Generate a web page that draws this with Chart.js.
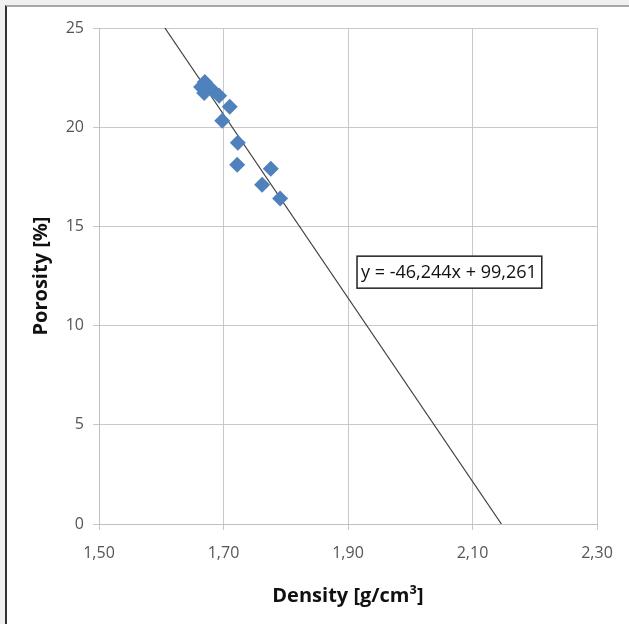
<!DOCTYPE html>
<html>
<head>
<meta charset="utf-8">
<script src="https://cdn.jsdelivr.net/npm/chart.js@4"></script>
<style>
    html, body { margin: 0; padding: 0; background: #f0f0f0; }
    #frame {
        position: absolute; left: 5px; top: 5px; width: 624px; height: 619px;
        background: #fff; border-top: 2px solid #a8a8a8; border-left: 2px solid #333;
        box-sizing: border-box;
    }
    #wrap { position: absolute; left: 0; top: 0; width: 629px; height: 624px; }
</style>
</head>
<body>
<div id="frame"></div>
<div id="wrap"><canvas id="myChart" width="629" height="624"></canvas></div>
<script>
// measured samples
const density = [1.670, 1.664, 1.669, 1.682, 1.693, 1.710, 1.698, 1.723, 1.722, 1.776, 1.762, 1.791];
const porosity = [22.28, 22.03, 21.73, 21.88, 21.58, 21.03, 20.32, 19.22, 18.11, 17.91, 17.10, 16.40];

// linear trend
const slope = -46.244;
const intercept = 99.261;
const trendLabel = 'y = -46,244x + 99,261';

const xTicks = [1.5, 1.7, 1.9, 2.1, 2.3];
const yTicks = [0, 5, 10, 15, 20, 25];

const fontFamily = "'Open Sans', 'Liberation Sans', sans-serif";

// trend line from y=25 down to y=0
const trendPoints = [25, 0].map(y => ({ x: (y - intercept) / slope, y: y }));

const equationBox = {
    id: 'equationBox',
    afterDatasetsDraw(chart) {
        const { ctx, scales } = chart;
        const left = scales.x.getPixelForValue(1.9145);
        const top = scales.y.getPixelForValue(13.5);
        ctx.save();
        ctx.font = '18px ' + fontFamily;
        const w = ctx.measureText(trendLabel).width + 9;
        const h = 32;
        ctx.fillStyle = '#fff';
        ctx.fillRect(left, top, w, h);
        ctx.strokeStyle = '#222';
        ctx.lineWidth = 1.5;
        ctx.strokeRect(left, top, w, h);
        ctx.fillStyle = '#111';
        ctx.textBaseline = 'middle';
        ctx.fillText(trendLabel, left + 4, top + h / 2 + 1);
        ctx.restore();
    }
};

function initChart() {
    const ctx = document.getElementById('myChart').getContext('2d');
    return new Chart(ctx, {
        type: 'scatter',
        data: {
            datasets: [
                {
                    label: 'trend',
                    type: 'line',
                    data: trendPoints,
                    borderColor: '#404040',
                    borderWidth: 1.2,
                    pointRadius: 0,
                    fill: false,
                    order: 2
                },
                {
                    label: 'samples',
                    data: density.map((d, i) => ({ x: d, y: porosity[i] })),
                    pointStyle: 'rectRot',
                    pointRadius: 8,
                    backgroundColor: '#4f81bd',
                    borderColor: '#4f81bd',
                    borderWidth: 0,
                    order: 1
                }
            ]
        },
        options: {
            responsive: false,
            animation: false,
            layout: { padding: { left: 0, top: 28, right: 32, bottom: 0 } },
            scales: {
                x: {
                    type: 'linear',
                    min: 1.5,
                    max: 2.3,
                    afterBuildTicks: s => { s.ticks = xTicks.map(v => ({ value: v })); },
                    afterFit: s => { s.height = 100; },
                    grid: { color: '#c8c8c8', tickLength: 6, tickColor: '#c8c8c8' },
                    border: { color: '#c0c0c0' },
                    ticks: {
                        color: '#555',
                        padding: 14,
                        font: { family: fontFamily, size: 16 },
                        callback: v => v.toFixed(2).replace('.', ',')
                    },
                    title: {
                        display: true,
                        text: 'Density [g/cm³]',
                        color: '#111',
                        padding: { top: 16, bottom: 16 },
                        font: { family: fontFamily, size: 20, weight: 'bold' }
                    }
                },
                y: {
                    min: 0,
                    max: 25,
                    afterBuildTicks: s => { s.ticks = yTicks.map(v => ({ value: v })); },
                    afterFit: s => { s.width = 99; },
                    grid: { color: '#c8c8c8', tickLength: 6, tickColor: '#c8c8c8' },
                    border: { color: '#c0c0c0' },
                    ticks: {
                        color: '#555',
                        padding: 9,
                        font: { family: fontFamily, size: 16 }
                    },
                    title: {
                        display: true,
                        text: 'Porosity [%]',
                        color: '#111',
                        padding: { top: 29, bottom: 29 },
                        font: { family: fontFamily, size: 20, weight: 'bold' }
                    }
                }
            },
            plugins: {
                legend: { display: false },
                tooltip: { enabled: false }
            }
        },
        plugins: [equationBox]
    });
}

initChart();
</script>
</body>
</html>
